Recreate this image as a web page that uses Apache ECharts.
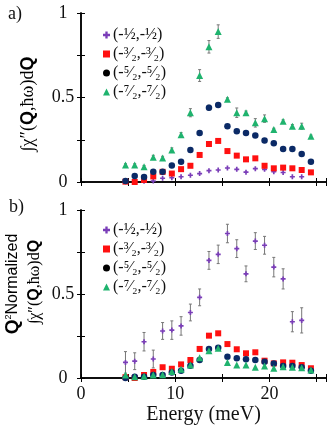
<!DOCTYPE html>
<html><head><meta charset="utf-8">
<script src="https://cdn.jsdelivr.net/npm/echarts@6/dist/echarts.min.js"></script>
<style>html,body{margin:0;padding:0;background:#fff}#c{width:334px;height:426px}</style>
</head><body><div id="c"></div>
<script>
const energy = [4.72,5.70,6.69,7.67,8.66,9.64,10.62,11.61,12.59,13.58,14.56,15.54,16.53,17.51,18.50,19.48,20.46,21.45,22.43,23.42,24.40];
const seriesNames = ['(-½,-½)', '(-³⁄₂,-³⁄₂)', '(-⁵⁄₂,-⁵⁄₂)', '(-⁷⁄₂,-⁷⁄₂)'];
const xTickLabels = [0, 10, 20];
const yTickLabels = [0, 0.5, 1];

// panel a
const purpleA = [null,null,0.005,0.006,0.022,0.025,0.031,0.04,0.05,0.067,0.071,0.083,0.075,0.058,0.079,0.075,0.061,0.056,0.031,0.031,null];
const redA = [0.002,0.0,0.012,0.033,0.06,0.05,0.076,0.096,0.16,0.225,0.243,0.183,0.156,0.134,0.14,0.096,0.081,0.085,0.081,0.071,0.057];
const navyA = [0.006,0.035,0.03,0.06,0.06,0.097,0.12,0.19,0.29,0.44,0.455,0.33,0.30,0.29,0.275,0.245,0.23,0.195,0.195,0.165,0.12];
const greenA = [0.10,0.10,0.09,0.146,0.142,0.19,0.28,0.41,0.63,0.80,0.89,0.49,0.41,0.41,0.35,0.375,0.31,0.36,0.33,0.33,0.27];
const navyAErr = [0.006,0.008,0.008,0.008,0.008,0.01,0.01,0.012,0.012,0.015,0.012,0.01,0.01,0.008,0.01,0.012,0.01,0.01,0.01,0.01,0.01];
const greenAErr = [0.008,0.008,0.008,0.012,0.01,0.012,0.012,0.024,0.035,0.037,0.04,0.008,0.028,0.01,0.025,0.022,0.008,0.008,0.01,0.018,0.008];

// panel b
const purpleB = [0.093,0.10,0.216,0.113,0.28,0.285,0.31,0.39,0.48,0.70,0.736,0.86,0.77,0.62,0.815,0.79,0.66,0.59,0.335,0.343,null];
const purpleBErr = [0.064,0.05,0.055,0.053,0.05,0.055,0.055,0.05,0.05,0.053,0.055,0.055,0.053,0.047,0.05,0.053,0.058,0.06,0.06,0.075,null];
const redB = [0.005,0.0,0.018,0.036,0.064,0.055,0.081,0.107,0.173,0.252,0.266,0.202,0.171,0.147,0.153,0.103,0.087,0.093,0.091,0.077,0.058];
const navyB = [0.0,0.008,0.008,0.018,0.018,0.032,0.043,0.073,0.107,0.173,0.18,0.127,0.117,0.111,0.107,0.097,0.087,0.071,0.071,0.064,0.043];
const greenB = [0.018,0.008,0.01,0.018,0.02,0.038,0.052,0.077,0.12,0.162,0.177,0.093,0.077,0.077,0.064,0.071,0.058,0.067,0.064,0.061,0.048];

const SERIF = "'Liberation Serif','DejaVu Serif',serif";
const SANS = "'Liberation Sans','DejaVu Sans',sans-serif";
const COLORS = ['#7a3db8', '#ff1010', '#0b2a66', '#1fb36e'];
const PLUS = 'path://M2,0H4V2H6V4H4V6H2V4H0V2H2Z';
const SYMBOLS = [PLUS, 'rect', 'circle', 'triangle'];
const SIZES = [5, 6, 6.5, 7];

function pts(vals){ return energy.map((e,i)=> vals[i]==null ? null : [e, vals[i]]).filter(Boolean); }
function scatter(k, vals, ax){
  return {type:'scatter', name:seriesNames[k], xAxisIndex:ax, yAxisIndex:ax, data:pts(vals),
    symbol:SYMBOLS[k], symbolSize:SIZES[k], itemStyle:{color:COLORS[k], opacity:1}, z:3+k, silent:true};
}
function errSeries(ax, vals, errs){
  const data = energy.map((e,i)=> (vals[i]==null||errs[i]==null) ? null : [e, vals[i], errs[i]]).filter(Boolean);
  return {type:'custom', xAxisIndex:ax, yAxisIndex:ax, z:2, silent:true, data, encode:{x:0,y:1},
    renderItem:(params, api)=>{
      const x=api.value(0), y=api.value(1), e=api.value(2);
      const p1=api.coord([x,y-e]), p2=api.coord([x,y+e]);
      const w=1.5, st={stroke:'#777',lineWidth:1};
      return {type:'group', children:[
        {type:'line', shape:{x1:p1[0],y1:p1[1],x2:p2[0],y2:p2[1]}, style:st},
        {type:'line', shape:{x1:p1[0]-w,y1:p1[1],x2:p1[0]+w,y2:p1[1]}, style:st},
        {type:'line', shape:{x1:p2[0]-w,y1:p2[1],x2:p2[0]+w,y2:p2[1]}, style:st}
      ]};
    }};
}

const axisLine = {show:true, lineStyle:{color:'#000', width:1.5}};
const axisTick = {show:true, inside:true, length:4, lineStyle:{color:'#000', width:1}};
function xAxes(g, showLabels){
  return [
    {type:'value', gridIndex:g, position:'bottom', min:0, max:26, interval:5, axisLine, axisTick, splitLine:{show:false},
     axisLabel:{show:showLabels, margin:7, fontFamily:SERIF, fontSize:18, color:'#111',
       formatter:v=> xTickLabels.includes(v) ? String(v) : ''},
     name: showLabels ? 'Energy (meV)' : '', nameLocation:'middle', nameGap:27,
     nameTextStyle:{fontFamily:SERIF, fontSize:20, color:'#111'}},
    {type:'value', gridIndex:g, position:'top', min:0, max:26, interval:5, axisLine, axisTick,
     splitLine:{show:false}, axisLabel:{show:false}}
  ];
}
function yAxes(g){
  return [
    {type:'value', gridIndex:g, position:'left', min:0, max:1, interval:0.25, axisLine, axisTick, splitLine:{show:false},
     axisLabel:{margin:18, align:'center', fontFamily:SERIF, fontSize:18, color:'#111',
       formatter:v=> yTickLabels.includes(v) ? String(v) : ''}},
    {type:'value', gridIndex:g, position:'right', min:0, max:1, interval:0.25, axisLine, axisTick,
     splitLine:{show:false}, axisLabel:{show:false}}
  ];
}
function legend(top){
  return {show:true, orient:'vertical', left:103, top, padding:0, itemGap:1, itemWidth:7, itemHeight:7,
    selectedMode:false,
    textStyle:{fontFamily:SERIF, fontSize:16, color:'#111', lineHeight:18, padding:[0,0,0,-2]},
    data: seriesNames.map((n,k)=>({name:n, icon:SYMBOLS[k], itemStyle:{color: k===2 ? '#000' : COLORS[k]}}))};
}

const titleRich = {
  s:{fontFamily:SERIF, fontSize:18, color:'#111'},
  b:{fontFamily:SANS, fontSize:18, fontWeight:'bold', color:'#111'},
  s2:{fontFamily:SERIF, fontSize:16, color:'#111'},
  b2:{fontFamily:SANS, fontSize:16, fontWeight:'bold', color:'#111'},
  n:{fontFamily:SANS, fontSize:16, color:'#111'},
  q:{fontFamily:SANS, fontSize:19, fontWeight:'bold', color:'#111'},
  sup:{fontFamily:SANS, fontSize:9, color:'#111', padding:[0,0,9,0]}
};

const option = {
  animation:false,
  backgroundColor:'#fff',
  grid:[
    {left:81, right:8, top:13, height:169},
    {left:81, right:8, top:210, height:168}
  ],
  xAxis:[...xAxes(0,false), ...xAxes(1,true)],
  yAxis:[...yAxes(0), ...yAxes(1)],
  legend:[legend(26), legend(221)],
  graphic:[
    {type:'text', left:8, top:5, style:{text:'a)', font:'18px '+SERIF, fill:'#111'}},
    {type:'text', left:9, top:198, style:{text:'b)', font:'18px '+SERIF, fill:'#111'}},
    {type:'text', x:28, y:104, rotation:Math.PI/2,
     style:{text:'{s|∫χ″(}{b|Q}{s|,ħω)d}{b|Q}', rich:titleRich, align:'center', verticalAlign:'middle'}},
    {type:'text', x:13, y:284, rotation:Math.PI/2,
     style:{text:'{q|Q}{sup|2}{n|Normalized}', rich:titleRich, align:'center', verticalAlign:'middle'}},
    {type:'text', x:35, y:282, rotation:Math.PI/2,
     style:{text:'{s2|∫χ″(}{b2|Q}{s2|,ħω)d}{b2|Q}', rich:titleRich, align:'center', verticalAlign:'middle'}}
  ],
  series:[
    errSeries(0, navyA, navyAErr),
    errSeries(0, greenA, greenAErr),
    scatter(0, purpleA, 0), scatter(1, redA, 0), scatter(2, navyA, 0), scatter(3, greenA, 0),
    errSeries(2, purpleB, purpleBErr),
    scatter(0, purpleB, 2), scatter(1, redB, 2), scatter(2, navyB, 2), scatter(3, greenB, 2)
  ]
};
const chart = echarts.init(document.getElementById('c'), null, {renderer:'canvas'});
chart.setOption(option);
</script></body></html>
